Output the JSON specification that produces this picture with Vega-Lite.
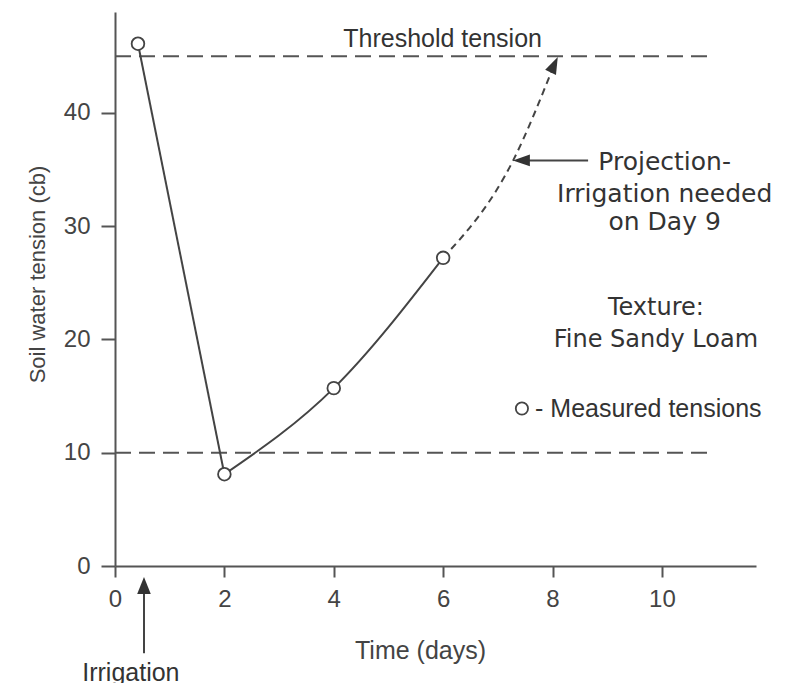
{
  "$schema": "https://vega.github.io/schema/vega-lite/v6.json",
  "width": 641,
  "height": 554,
  "autosize": {"type": "none"},
  "padding": {"left": 115, "top": 12, "right": 31, "bottom": 117},
  "background": "white",
  "config": {"view": {"stroke": null}, "font": "Liberation Sans"},
  "datasets": {
    "thresholds": [
      {"cb": 45, "day": 0, "day2": 10.85},
      {"cb": 10, "day": 0, "day2": 10.85}
    ],
    "drop": [
      {"day": 0.42, "cb": 46.1},
      {"day": 2, "cb": 8.1}
    ],
    "rise": [
      {"day": 2, "cb": 8.1},
      {"day": 4, "cb": 15.7},
      {"day": 6, "cb": 27.2}
    ],
    "projection": [
      {"day": 6, "cb": 27.2},
      {"day": 7.28, "cb": 35.8},
      {"day": 8.03, "cb": 44.25}
    ],
    "measured": [
      {"day": 0.42, "cb": 46.1},
      {"day": 2, "cb": 8.1},
      {"day": 4, "cb": 15.7},
      {"day": 6, "cb": 27.2}
    ],
    "legendpt": [{"day": 7.44, "cb": 13.9}],
    "pointerShaft": [{"day": 7.43, "day2": 8.65, "cb": 35.8}],
    "pointerHead": [{"day": 7.43, "cb": 35.8}],
    "projHead": [{"day": 8.03, "cb": 44.25}],
    "irrShaft": [{"day": 0.53, "cb": -1.7, "cb2": -7.7}],
    "irrHead": [{"day": 0.53, "cb": -1.72}],
    "arialCenter": [
      {"label": "Threshold tension", "day": 5.99, "cb": 45.8},
      {"label": "Irrigation", "day": 0.29, "cb": -10.15}
    ],
    "arialLeft": [
      {"label": "- Measured tensions", "day": 7.68, "cb": 13.15}
    ],
    "projText": [
      {"label": "Projection-", "day": 10.05, "cb": 34.95},
      {"label": "Irrigation needed", "day": 10.05, "cb": 32.1},
      {"label": "on Day 9", "day": 10.05, "cb": 29.65}
    ],
    "textureText": [
      {"label": "Texture:", "day": 9.89, "cb": 22.15},
      {"label": "Fine Sandy Loam", "day": 9.89, "cb": 19.33}
    ]
  },
  "encoding": {
    "x": {
      "field": "day",
      "type": "quantitative",
      "scale": {"domain": [0, 11.72], "nice": false, "zero": false},
      "axis": {
        "values": [0, 2, 4, 6, 8, 10],
        "grid": false,
        "title": "Time (days)",
        "domainColor": "#555",
        "domainWidth": 2,
        "tickColor": "#555",
        "tickWidth": 2,
        "tickSize": 11,
        "labelFont": "Liberation Sans",
        "labelFontSize": 24,
        "labelColor": "#444",
        "labelPadding": 10,
        "labelFlush": false,
        "labelOverlap": false,
        "titleFont": "Liberation Sans",
        "titleFontSize": 25,
        "titleFontWeight": "normal",
        "titleColor": "#444",
        "titleX": 305,
        "titleY": 92,
        "titleBaseline": "alphabetic",
        "titleAlign": "center"
      }
    },
    "y": {
      "field": "cb",
      "type": "quantitative",
      "scale": {"domain": [0, 48.9], "nice": false, "zero": false},
      "axis": {
        "values": [0, 10, 20, 30, 40],
        "grid": false,
        "title": "Soil water tension (cb)",
        "domainColor": "#555",
        "domainWidth": 2,
        "tickColor": "#555",
        "tickWidth": 2,
        "tickSize": 14,
        "labelFont": "Liberation Sans",
        "labelFontSize": 24,
        "labelColor": "#444",
        "labelPadding": 11,
        "labelFlush": false,
        "labelOverlap": false,
        "titleFont": "Liberation Sans",
        "titleFontSize": 22,
        "titleFontWeight": "normal",
        "titleColor": "#444",
        "titleX": -71,
        "titleY": 262,
        "titleAngle": -90,
        "titleBaseline": "alphabetic",
        "titleAlign": "center"
      }
    }
  },
  "layer": [
    {
      "data": {"name": "thresholds"},
      "mark": {"type": "rule", "color": "#555", "strokeWidth": 2, "strokeDash": [16, 8]},
      "encoding": {"x2": {"field": "day2"}}
    },
    {
      "data": {"name": "drop"},
      "mark": {"type": "line", "color": "#444", "strokeWidth": 2}
    },
    {
      "data": {"name": "rise"},
      "mark": {"type": "line", "color": "#444", "strokeWidth": 2, "interpolate": "monotone"}
    },
    {
      "data": {"name": "projection"},
      "mark": {"type": "line", "color": "#444", "strokeWidth": 2, "strokeDash": [7, 5], "interpolate": "monotone"}
    },
    {
      "data": {"name": "pointerShaft"},
      "mark": {"type": "rule", "color": "#444", "strokeWidth": 2},
      "encoding": {"x2": {"field": "day2"}}
    },
    {
      "data": {"name": "irrShaft"},
      "mark": {"type": "rule", "color": "#444", "strokeWidth": 2},
      "encoding": {"y2": {"field": "cb2"}}
    },
    {
      "data": {"name": "pointerHead"},
      "mark": {"type": "point", "shape": "M0,-1L-0.7,1L0.7,1Z", "filled": true, "color": "#333", "opacity": 1, "size": 289, "angle": -90}
    },
    {
      "data": {"name": "projHead"},
      "mark": {"type": "point", "shape": "M0,-1L-0.7,1L0.7,1Z", "filled": true, "color": "#333", "opacity": 1, "size": 289, "angle": 25}
    },
    {
      "data": {"name": "irrHead"},
      "mark": {"type": "point", "shape": "M0,-1L-0.8,1L0.8,1Z", "filled": true, "color": "#333", "opacity": 1, "size": 289}
    },
    {
      "data": {"name": "measured"},
      "mark": {"type": "point", "shape": "circle", "filled": true, "fill": "white", "stroke": "#444", "strokeWidth": 1.8, "opacity": 1, "size": 160}
    },
    {
      "data": {"name": "legendpt"},
      "mark": {"type": "point", "shape": "circle", "filled": true, "fill": "white", "stroke": "#444", "strokeWidth": 1.8, "opacity": 1, "size": 150}
    },
    {
      "data": {"name": "arialCenter"},
      "mark": {"type": "text", "font": "Liberation Sans", "fontSize": 25, "color": "#333", "align": "center", "baseline": "alphabetic"},
      "encoding": {"text": {"field": "label"}}
    },
    {
      "data": {"name": "arialLeft"},
      "mark": {"type": "text", "font": "Liberation Sans", "fontSize": 25, "color": "#333", "align": "left", "baseline": "alphabetic"},
      "encoding": {"text": {"field": "label"}}
    },
    {
      "data": {"name": "projText"},
      "mark": {"type": "text", "font": "DejaVu Sans", "fontSize": 25, "color": "#333", "align": "center", "baseline": "alphabetic"},
      "encoding": {"text": {"field": "label"}}
    },
    {
      "data": {"name": "textureText"},
      "mark": {"type": "text", "font": "DejaVu Sans", "fontSize": 24, "color": "#333", "align": "center", "baseline": "alphabetic"},
      "encoding": {"text": {"field": "label"}}
    }
  ]
}
